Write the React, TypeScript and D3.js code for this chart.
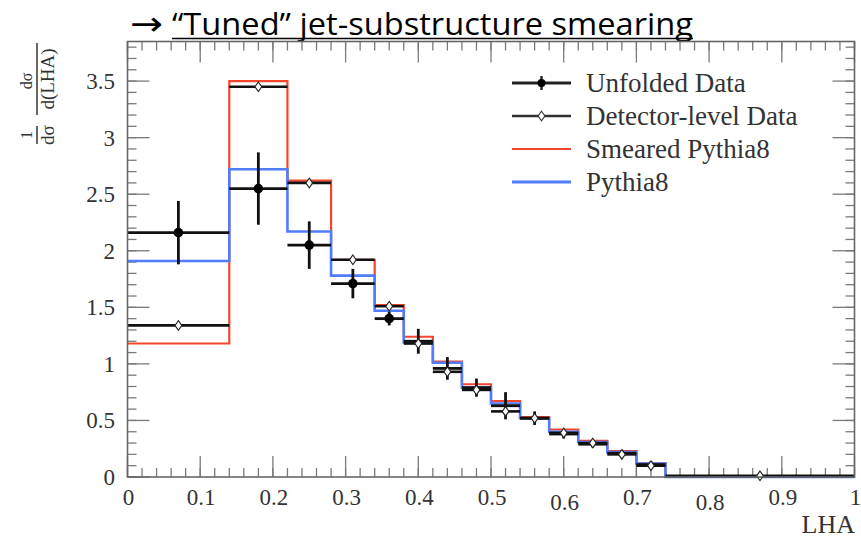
import React from "react";
import * as d3 from "d3";

const binEdges = [0, 0.14, 0.22, 0.28, 0.34, 0.38, 0.42, 0.46, 0.5, 0.54, 0.58, 0.62, 0.66, 0.7, 0.74, 1.0];
const smeared = [1.18, 3.5, 2.62, 1.92, 1.52, 1.24, 1.02, 0.82, 0.67, 0.53, 0.42, 0.32, 0.23, 0.12, 0.0];
const pythia = [1.91, 2.72, 2.17, 1.78, 1.47, 1.19, 1.01, 0.79, 0.65, 0.52, 0.4, 0.31, 0.22, 0.12, 0.0];
const unfolded = [2.16, 2.55, 2.05, 1.71, 1.4, 1.2, 0.96, 0.79, 0.63, 0.52, 0.38, 0.29, 0.21, 0.11, 0.0];
const unfoldedErr = [0.28, 0.32, 0.21, 0.13, 0.06, 0.11, 0.1, 0.08, 0.12, 0.06, 0.04, 0.03, 0.03, 0.03, 0.0];
const detector = [1.34, 3.45, 2.6, 1.92, 1.51, 1.18, 0.93, 0.77, 0.58, 0.52, 0.39, 0.3, 0.2, 0.1, 0.01];

const xTickLabels = ["0", "0.1", "0.2", "0.3", "0.4", "0.5", "0.6", "0.7", "0.8", "0.9", "1"];
const yTickLabels = ["0", "0.5", "1", "1.5", "2", "2.5", "3", "3.5"];
const legendLabels = ["Unfolded Data", "Detector-level Data", "Smeared Pythia8", "Pythia8"];

const RED = "#f4462d";
const BLUE = "#4f7dfb";
const SERIF = "'Liberation Serif', 'DejaVu Serif', serif";

export default function App() {
  const W = 861, H = 539;
  const left = 127.5, right = 854.5, top = 41.5, bottom = 477;
  const x = d3.scaleLinear().domain([0, 1]).range([left, right]);
  const y = d3.scaleLinear().domain([0, 3.85]).range([bottom, top]);

  const stepLine = d3
    .line<[number, number]>()
    .x((d) => x(d[0]))
    .y((d) => y(d[1]))
    .curve(d3.curveStepAfter);
  const stepPts = (vals: number[]): [number, number][] => {
    const pts: [number, number][] = vals.map((v, i) => [binEdges[i], v]);
    pts.push([binEdges[binEdges.length - 1], vals[vals.length - 1]]);
    return pts;
  };

  const centers = binEdges.slice(0, -1).map((e, i) => (e + binEdges[i + 1]) / 2);

  const xMinor = d3.range(0, 51).map((i) => i * 0.02);
  const yMinor = d3.range(0, 39).map((i) => i * 0.1);
  const xMajor = xTickLabels.map((t) => +t);
  const yMajor = yTickLabels.map((t) => +t);

  const diamond = (cx: number, cy: number) =>
    `M${cx},${cy - 4.8}L${cx + 3.4},${cy}L${cx},${cy + 4.8}L${cx - 3.4},${cy}Z`;

  const tickColor = "#7a7a7a";
  const xLabelShift: Record<string, number> = { "0.6": 5, "0.8": 5 };

  const lgX0 = 512, lgX1 = 571, lgText = 586;
  const lgY = [83, 116, 149, 182];

  return (
    <svg width={W} height={H} style={{ position: "absolute", left: 0, top: 0, background: "#fff" }}>
      {/* title */}
      <text x={130} y={35} fontFamily="'DejaVu Sans', sans-serif" fontSize={33} fill="#000" textLength={33} lengthAdjust="spacingAndGlyphs">→</text>
      <text x={172} y={35} fontFamily="'Open Sans', sans-serif" fontSize={31} fill="#000" textLength={521} lengthAdjust="spacingAndGlyphs">
        “Tuned” jet-substructure smearing
      </text>
      <line x1={172} x2={693} y1={38.5} y2={38.5} stroke="#000" strokeWidth={1.6} />

      {/* ticks */}
      <g stroke={tickColor} strokeWidth={1.3}>
        {xMinor.map((v, i) => (
          <g key={"xm" + i}>
            <line x1={x(v)} x2={x(v)} y1={bottom} y2={bottom - 9} />
            <line x1={x(v)} x2={x(v)} y1={top} y2={top + 9} />
          </g>
        ))}
        {xMajor.map((v, i) => (
          <g key={"xM" + i}>
            <line x1={x(v)} x2={x(v)} y1={bottom} y2={bottom - 21} />
            <line x1={x(v)} x2={x(v)} y1={top} y2={top + 21} />
          </g>
        ))}
        {yMinor.map((v, i) => (
          <g key={"ym" + i}>
            <line x1={left} x2={left + 9} y1={y(v)} y2={y(v)} />
            <line x1={right} x2={right - 9} y1={y(v)} y2={y(v)} />
          </g>
        ))}
        {yMajor.map((v, i) => (
          <g key={"yM" + i}>
            <line x1={left} x2={left + 22} y1={y(v)} y2={y(v)} />
            <line x1={right} x2={right - 22} y1={y(v)} y2={y(v)} />
          </g>
        ))}
      </g>

      {/* histograms */}
      <path d={stepLine(stepPts(smeared)) || ""} fill="none" stroke={RED} strokeWidth={2.2} />
      <path d={stepLine(stepPts(pythia)) || ""} fill="none" stroke={BLUE} strokeWidth={2.6} />

      {/* unfolded data */}
      <g>
        {unfolded.map((v, i) =>
          i === unfolded.length - 1 ? null : (
            <g key={"u" + i}>
              <line x1={x(binEdges[i])} x2={x(binEdges[i + 1])} y1={y(v)} y2={y(v)} stroke="#111" strokeWidth={2.8} />
              <line x1={x(centers[i])} x2={x(centers[i])} y1={y(v - unfoldedErr[i])} y2={y(v + unfoldedErr[i])} stroke="#111" strokeWidth={2.8} />
              {i < 5 && <circle cx={x(centers[i])} cy={y(v)} r={4.8} fill="#000" />}
            </g>
          )
        )}
      </g>

      {/* detector-level data */}
      <g>
        {detector.map((v, i) => (
          <line key={"dh" + i} x1={x(binEdges[i])} x2={x(binEdges[i + 1])} y1={y(v)} y2={y(v)} stroke="#111" strokeWidth={2.6} />
        ))}
        {detector.map((v, i) => (
          <path key={"dm" + i} d={diamond(x(centers[i]), y(v))} fill="#fff" stroke="#222" strokeWidth={1.1} />
        ))}
      </g>

      {/* frame */}
      <rect x={left} y={top} width={right - left} height={bottom - top} fill="none" stroke="#666" strokeWidth={1.6} />

      {/* tick labels */}
      <g fontFamily={SERIF} fontSize={23} fill="#333" textAnchor="middle">
        {xTickLabels.map((t, i) => (
          <text key={"xl" + i} x={x(xMajor[i]) + 1} y={505 + (xLabelShift[t] || 0)}>{t}</text>
        ))}
      </g>
      <g fontFamily={SERIF} fontSize={23} fill="#333" textAnchor="end">
        {yTickLabels.map((t, i) => (
          <text key={"yl" + i} x={115} y={y(yMajor[i]) + 8}>{t}</text>
        ))}
      </g>
      <text x={855} y={533} textAnchor="end" fontFamily={SERIF} fontSize={26} fill="#333">LHA</text>

      {/* y-axis label */}
      <g transform="translate(37,94) rotate(-90)" fontFamily={SERIF} fill="#333" textAnchor="middle">
        <line x1={-21} x2={51} y1={0} y2={0} stroke="#333" strokeWidth={1.5} />
        <text x={13} y={-5} fontSize={16}>dσ</text>
        <text x={15} y={17} fontSize={19}>d(LHA)</text>
        <line x1={-50} x2={-32} y1={0} y2={0} stroke="#333" strokeWidth={1.5} />
        <text x={-41} y={-5} fontSize={16}>1</text>
        <text x={-41} y={17} fontSize={19}>dσ</text>
      </g>

      {/* legend */}
      <g>
        <line x1={lgX0} x2={lgX1} y1={lgY[0]} y2={lgY[0]} stroke="#222" strokeWidth={2.8} />
        <line x1={(lgX0 + lgX1) / 2} x2={(lgX0 + lgX1) / 2} y1={lgY[0] - 7} y2={lgY[0] + 7} stroke="#222" strokeWidth={2.4} />
        <circle cx={(lgX0 + lgX1) / 2} cy={lgY[0]} r={4} fill="#000" />
        <line x1={lgX0} x2={lgX1} y1={lgY[1]} y2={lgY[1]} stroke="#333" strokeWidth={2.4} />
        <path d={diamond((lgX0 + lgX1) / 2, lgY[1])} fill="#fff" stroke="#333" strokeWidth={1.1} />
        <line x1={lgX0} x2={lgX1} y1={lgY[2]} y2={lgY[2]} stroke={RED} strokeWidth={2.2} />
        <line x1={lgX0} x2={lgX1} y1={lgY[3]} y2={lgY[3]} stroke={BLUE} strokeWidth={3} />
        {legendLabels.map((l, i) => (
          <text key={"lg" + i} x={lgText} y={lgY[i] + 9} fontFamily={SERIF} fontSize={27} fill="#333">{l}</text>
        ))}
      </g>
    </svg>
  );
}
